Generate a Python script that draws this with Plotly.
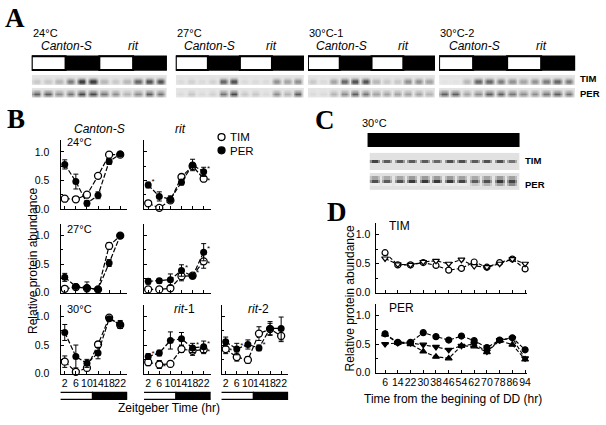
import plotly.graph_objects as go

W, H = 606, 425
FONT = "Liberation Sans, Arial, sans-serif"
SERIF = "Liberation Serif, Times New Roman, serif"


def fx(p):
    return p / W


def fy(p):
    return 1 - p / H


# ---------------- panel B data ----------------
zt = [2, 6, 10, 14, 18, 22]

cs24_tim = [0.18, 0.17, 0.25, 0.58, 0.95, 0.95]
cs24_tim_err = [0.03, 0.0, 0.03, 0.04, 0.03, 0.0]
cs24_per = [0.78, 0.48, 0.10, 0.24, 0.83, 0.96]
cs24_per_err = [0.08, 0.13, 0.05, 0.06, 0.05, 0.03]

rit24_tim = [0.10, 0.02, 0.15, 0.56, 0.75, 0.53]
rit24_tim_err = [0.03, 0.03, 0.03, 0.03, 0.0, 0.04]
rit24_per = [0.42, 0.22, 0.17, 0.47, 0.77, 0.65]
rit24_per_err = [0.05, 0.08, 0.06, 0.05, 0.10, 0.08]

cs27_tim = [0.07, 0.10, 0.08, 0.06, 0.82, 1.0]
cs27_tim_err = [0.0, 0.0, 0.0, 0.0, 0.06, 0.0]
cs27_per = [0.27, 0.11, 0.09, 0.06, 0.52, 1.0]
cs27_per_err = [0.07, 0.03, 0.10, 0.03, 0.06, 0.0]

rit27_tim = [0.06, 0.06, 0.08, 0.29, 0.30, 0.55]
rit27_tim_err = [0.02, 0.02, 0.02, 0.08, 0.03, 0.12]
rit27_per = [0.20, 0.21, 0.23, 0.39, 0.29, 0.71]
rit27_per_err = [0.05, 0.04, 0.10, 0.10, 0.04, 0.15]

cs30_tim = [0.21, 0.03, 0.10, 0.51, 0.98, 0.85]
cs30_tim_err = [0.10, 0.03, 0.05, 0.05, 0.03, 0.06]
cs30_per = [0.72, 0.30, 0.18, 0.36, 0.96, 0.86]
cs30_per_err = [0.14, 0.20, 0.07, 0.10, 0.03, 0.07]

rit1_tim = [0.20, 0.16, 0.17, 0.43, 0.40, 0.42]
rit1_tim_err = [0.06, 0.07, 0.05, 0.06, 0.08, 0.07]
rit1_per = [0.30, 0.36, 0.58, 0.61, 0.45, 0.47]
rit1_per_err = [0.05, 0.05, 0.15, 0.11, 0.08, 0.10]

rit2_tim = [0.43, 0.29, 0.24, 0.70, 0.78, 0.66]
rit2_tim_err = [0.08, 0.07, 0.06, 0.12, 0.10, 0.10]
rit2_per = [0.56, 0.43, 0.51, 0.45, 0.79, 0.79]
rit2_per_err = [0.08, 0.10, 0.08, 0.05, 0.12, 0.20]

# times carrying an asterisk (significant difference from Canton-S)
rit24_star_tim, rit24_star_per = [22], [2, 22]
rit27_star_tim, rit27_star_per = [22], [14, 18, 22]
rit1_star_tim, rit1_star_per = [6, 22], [2, 18, 22]
rit2_star_tim, rit2_star_per = [2], [6, 14]

# light : dark schedule (ZT hr)
ld_white = (0, 12)
ld_black = (12, 24.8)

# ---------------- panel D data ----------------
dd_time = [6, 14, 22, 30, 38, 46, 54, 62, 70, 78, 86, 94]
dd_tim_a = [0.69, 0.48, 0.48, 0.52, 0.47, 0.39, 0.42, 0.53, 0.44, 0.52, 0.58, 0.41]
dd_tim_b = [0.59, 0.49, 0.48, 0.53, 0.55, 0.50, 0.57, 0.46, 0.44, 0.50, 0.58, 0.50]
dd_per_a = [0.68, 0.53, 0.53, 0.70, 0.63, 0.57, 0.64, 0.56, 0.44, 0.57, 0.61, 0.40]
dd_per_b = [0.50, 0.52, 0.52, 0.49, 0.45, 0.40, 0.47, 0.50, 0.37, 0.57, 0.60, 0.25]
dd_per_c = [0.67, 0.52, 0.50, 0.37, 0.28, 0.25, 0.47, 0.46, 0.36, 0.56, 0.49, 0.23]

# ---------------- blot band intensities (per lane, 0 = none) ----------------
a24_tim = [0.2, 0.2, 0.3, 0.6, 0.9, 0.9, 0.3, 0.2, 0.3, 0.7, 0.8, 0.8]
a24_per = [0.7, 0.7, 0.5, 0.6, 0.8, 0.8, 0.6, 0.5, 0.3, 0.5, 0.7, 0.6]
a27_tim = [0.1, 0.15, 0.1, 0.15, 0.7, 0.8, 0.1, 0.1, 0.1, 0.5, 0.4, 0.5]
a27_per = [0.1, 0.2, 0.1, 0.15, 0.6, 0.8, 0.2, 0.2, 0.1, 0.5, 0.3, 0.7]
a30a_tim = [0.2, 0.1, 0.4, 0.7, 0.8, 0.8, 0.3, 0.2, 0.2, 0.5, 0.5, 0.4]
a30a_per = [0.1, 0.1, 0.3, 0.5, 0.7, 0.6, 0.4, 0.4, 0.4, 0.4, 0.4, 0.3]
a30b_tim = [0.05, 0.05, 0.3, 0.7, 0.7, 0.6, 0.5, 0.4, 0.5, 0.6, 0.7, 0.6]
a30b_per = [0.7, 0.7, 0.4, 0.5, 0.7, 0.7, 0.6, 0.5, 0.5, 0.6, 0.7, 0.6]
c_tim = [0.8, 0.7, 0.7, 0.7, 0.7, 0.65, 0.75, 0.75, 0.7, 0.75, 0.75, 0.6]
c_per = [0.75, 0.7, 0.75, 0.85, 0.85, 0.85, 0.85, 0.8, 0.7, 0.75, 0.85, 0.8]
c_per_low = [0, 0, 0, 0, 0, 0, 0, 0, 0.2, 0.3, 0.4, 0.5]

a_strips = [
    ("24°C", a24_tim, a24_per, (32, 168)),
    ("27°C", a27_tim, a27_per, (177, 306)),
    ("30°C-1", a30a_tim, a30a_per, (310, 438)),
    ("30°C-2", a30b_tim, a30b_per, (442, 579)),
]
# lanes: Canton-S light, Canton-S dark, rit light, rit dark
a_ld = [(0, 3, "white"), (3, 6, "black"), (6, 9, "white"), (9, 12, "black")]

fig = go.Figure()
layout = {}
shapes = []
ann = []


def text(x, y, s, size=11, xanchor="center", bold=False, italic=False, family=FONT, angle=0):
    if bold:
        s = "<b>" + s + "</b>"
    if italic:
        s = "<i>" + s + "</i>"
    ann.append(dict(x=fx(x), y=fy(y), xref="paper", yref="paper", text=s, showarrow=False,
                    xanchor=xanchor, yanchor="middle", textangle=angle, borderpad=0,
                    font=dict(family=family, size=size, color="black")))


def axis_style(**kw):
    d = dict(showline=True, linecolor="black", linewidth=1.2, ticks="inside", ticklen=3,
             tickcolor="black", tickwidth=1, showgrid=False, zeroline=False,
             tickfont=dict(family=FONT, size=10.5, color="black"))
    d.update(kw)
    return d


# ---------------- panel B ----------------
col_x = {1: (61, 128), 2: (145, 212), 3: (223, 290)}
row_y = {1: (142.4, 212), 2: (227.4, 297), 3: (309.4, 379)}

b_panels = [
    (1, 1, cs24_tim, cs24_tim_err, cs24_per, cs24_per_err, [], []),
    (1, 2, rit24_tim, rit24_tim_err, rit24_per, rit24_per_err, rit24_star_tim, rit24_star_per),
    (2, 1, cs27_tim, cs27_tim_err, cs27_per, cs27_per_err, [], []),
    (2, 2, rit27_tim, rit27_tim_err, rit27_per, rit27_per_err, rit27_star_tim, rit27_star_per),
    (3, 1, cs30_tim, cs30_tim_err, cs30_per, cs30_per_err, [], []),
    (3, 2, rit1_tim, rit1_tim_err, rit1_per, rit1_per_err, rit1_star_tim, rit1_star_per),
    (3, 3, rit2_tim, rit2_tim_err, rit2_per, rit2_per_err, rit2_star_tim, rit2_star_per),
]

line_style = dict(color="black", width=1.2, dash="5px,2px")
err_style = dict(type="data", visible=True, color="black", thickness=1, width=2.5)

for i, (r, c, tim, tim_e, per, per_e, st_tim, st_per) in enumerate(b_panels):
    n = i + 1
    xa, ya = "x%d" % n, "y%d" % n
    fig.add_trace(go.Scatter(x=zt, y=tim, xaxis=xa, yaxis=ya, mode="lines+markers",
                             line=line_style, error_y=dict(array=tim_e, **err_style),
                             marker=dict(symbol="circle", size=7, color="white",
                                         line=dict(color="black", width=1.3)),
                             cliponaxis=False))
    fig.add_trace(go.Scatter(x=zt, y=per, xaxis=xa, yaxis=ya, mode="lines+markers",
                             line=line_style, error_y=dict(array=per_e, **err_style),
                             marker=dict(symbol="circle", size=7, color="black"),
                             cliponaxis=False))
    sx = [t + 1.8 for t in st_tim] + [t + 1.8 for t in st_per]
    sy = [tim[zt.index(t)] - 0.04 for t in st_tim] + [per[zt.index(t)] + 0.05 for t in st_per]
    if sx:
        fig.add_trace(go.Scatter(x=sx, y=sy, xaxis=xa, yaxis=ya, mode="text", text=["*"] * len(sx),
                                 textfont=dict(family=FONT, size=8, color="black"),
                                 cliponaxis=False))
    x0, x1 = col_x[c]
    y0, y1 = row_y[r]
    layout["xaxis%d" % n] = axis_style(domain=[fx(x0), fx(x1)], range=[0.5, 24.5], anchor=ya,
                                       tickvals=zt, showticklabels=(r == 3), tickangle=0)
    layout["yaxis%d" % n] = axis_style(domain=[fy(y1), fy(y0)], range=[0, 1.2], anchor=xa,
                                       tickvals=[0, 0.5, 1.0], ticktext=["0.0", "0.5", "1.0"],
                                       showticklabels=(c == 1), ticklabelstandoff=8,
                                       minor=dict(tickvals=[0.25, 0.75, 1.2], ticks="inside",
                                                  ticklen=2, tickcolor="black"))
    if r == 3:
        for (a, b), col in ((ld_white, "white"), (ld_black, "black")):
            shapes.append(dict(type="rect", xref=xa, yref="paper", x0=a, x1=b,
                               y0=fy(405), y1=fy(398), fillcolor=col,
                               line=dict(color="black", width=1.2)))

text(100, 131, "Canton-S", 12, italic=True)
text(182, 131, "rit", 12, italic=True)
text(66, 144, "24°C", 11, xanchor="left")
text(66, 232, "27°C", 11, xanchor="left")
text(66, 313, "30°C", 11, xanchor="left")
text(186, 313, "<i>rit</i>-1", 12)
text(260, 313, "<i>rit</i>-2", 12)
text(33, 265, "Relative protein abundance", 12, angle=-90)
text(170, 414, "Zeitgeber Time (hr)", 12)
# legend
text(231, 138.5, "TIM", 11.5, xanchor="left")
text(231, 153.5, "PER", 11.5, xanchor="left")
shapes.append(dict(type="circle", xref="paper", yref="paper", x0=fx(219.5), x1=fx(226.5),
                   y0=fy(142.5), y1=fy(135.5), fillcolor="white", line=dict(color="black", width=1.3)))
shapes.append(dict(type="circle", xref="paper", yref="paper", x0=fx(219.5), x1=fx(226.5),
                   y0=fy(156), y1=fy(149), fillcolor="black", line=dict(color="black", width=1.3)))

# ---------------- panel D ----------------
d_series = [
    (8, dd_tim_a, "circle", "white"),
    (8, dd_tim_b, "triangle-down", "white"),
    (9, dd_per_a, "circle", "black"),
    (9, dd_per_b, "triangle-down", "black"),
    (9, dd_per_c, "triangle-up", "black"),
]
for n, vals, sym, fill in d_series:
    mk = dict(symbol=sym, size=6, color=fill, line=dict(color="black", width=1.2))
    fig.add_trace(go.Scatter(x=dd_time, y=vals, xaxis="x%d" % n, yaxis="y%d" % n,
                             mode="lines+markers", marker=mk, cliponaxis=False,
                             line=dict(color="black", width=1.1, dash="4px,2px")))

d_rows = {8: (226.2, 297), 9: (308.4, 378)}
for n, (y0, y1) in d_rows.items():
    layout["xaxis%d" % n] = axis_style(domain=[fx(378), fx(531)], range=[0, 95.5], anchor="y%d" % n,
                                       tickvals=dd_time, showticklabels=(n == 9), tickangle=0)
    layout["yaxis%d" % n] = axis_style(domain=[fy(y1), fy(y0)], range=[0, 1.2], anchor="x%d" % n,
                                       tickvals=[0, 0.5, 1.0], ticktext=["0.0", "0.5", "1.0"],
                                       ticklabelstandoff=2,
                                       minor=dict(tickvals=[0.25, 0.75, 1.2], ticks="inside",
                                                  ticklen=2, tickcolor="black"))
text(391, 229, "TIM", 12, xanchor="left")
text(391, 312, "PER", 12, xanchor="left")
text(352, 303, "Relative protein abundance", 12, angle=-90)
text(456, 405, "Time from the begining of DD (hr)", 12)

# ---------------- blots (panels A and C) ----------------
blot_scale = [[0, "#ececec"], [0.4, "#a0a0a0"], [1, "#151515"]]


def lane_row(vals, k):
    row = []
    for v in vals:
        row += [v * k * 0.6, v * k, v * k, v * k, v * k * 0.6, 0.03]
    return row


def lane_x(nlanes):
    return [i + (j + 0.5) / 6 for i in range(nlanes) for j in range(6)]


for i, (label, tim, per, (x0, x1)) in enumerate(a_strips):
    n = 10 + i
    nl = len(tim)
    bg = [0.04] * (nl * 6)
    gap = [None] * (nl * 6)
    z = [bg, lane_row(tim, 0.5), lane_row(tim, 1.0), lane_row(tim, 0.5), gap,
         bg, lane_row(per, 0.5), lane_row(per, 1.0), lane_row(per, 0.4)]
    fig.add_trace(go.Heatmap(z=z, x=lane_x(nl), xaxis="x%d" % n, yaxis="y%d" % n,
                             colorscale=blot_scale, zmin=0, zmax=1, showscale=False,
                             zsmooth="best"))
    layout["xaxis%d" % n] = dict(domain=[fx(x0), fx(x1)], range=[0, nl], visible=False, anchor="y%d" % n)
    layout["yaxis%d" % n] = dict(domain=[fy(99), fy(76)], range=[8.5, -0.5], visible=False, anchor="x%d" % n)
    shapes.append(dict(type="rect", xref="x%d" % n, yref="paper", x0=0, x1=nl,
                       y0=fy(71), y1=fy(57), fillcolor="black", line=dict(color="black", width=1.5)))
    for a, b, col in a_ld:
        if col == "white":
            shapes.append(dict(type="rect", xref="x%d" % n, yref="paper", x0=a, x1=b,
                               y0=fy(71), y1=fy(57), fillcolor="white", line=dict(color="black", width=2)))
    text(x0, 33, label, 11, xanchor="left")
    text(x0 + (x1 - x0) * 0.26, 47, "Canton-S", 12, italic=True)
    text(x0 + (x1 - x0) * 0.75, 47, "rit", 12, italic=True)

text(583, 80, "TIM", 9.5, xanchor="left", bold=True)
text(583, 95, "PER", 9.5, xanchor="left", bold=True)

# panel C
nl = len(c_tim)
bg = [0.06] * (nl * 6)
gap = [None] * (nl * 6)
zc = [bg, bg, lane_row(c_tim, 1.0), bg, bg, gap,
      bg, lane_row(c_per, 0.5), lane_row(c_per, 1.0), lane_row(c_per_low, 1.0), bg]
fig.add_trace(go.Heatmap(z=zc, x=lane_x(nl), xaxis="x14", yaxis="y14",
                         colorscale=blot_scale, zmin=0, zmax=1, showscale=False))
layout["xaxis14"] = dict(domain=[fx(372), fx(523)], range=[0, nl], visible=False, anchor="y14")
layout["yaxis14"] = dict(domain=[fy(193), fy(155)], range=[10.5, -0.5], visible=False, anchor="x14")
shapes.append(dict(type="rect", xref="paper", yref="paper", x0=fx(370), x1=fx(523),
                   y0=fy(149), y1=fy(135), fillcolor="black", line=dict(width=0)))
text(363, 125, "30°C", 11, xanchor="left")
text(527, 163, "TIM", 9.5, xanchor="left", bold=True)
text(527, 187, "PER", 9.5, xanchor="left", bold=True)

# panel letters
text(15, 18, "A", 27, bold=True, family=SERIF)
text(16, 121, "B", 27, bold=True, family=SERIF)
text(327, 122, "C", 27, bold=True, family=SERIF)
text(339, 215, "D", 27, bold=True, family=SERIF)

fig.update_layout(width=W, height=H, margin=dict(l=0, r=0, t=0, b=0),
                  paper_bgcolor="white", plot_bgcolor="rgba(0,0,0,0)",
                  showlegend=False, shapes=shapes, annotations=ann, **layout)

fig.write_html("out.html", config={"displayModeBar": False},
               post_script="document.body.style.margin='0px';document.body.style.overflow='hidden';")
